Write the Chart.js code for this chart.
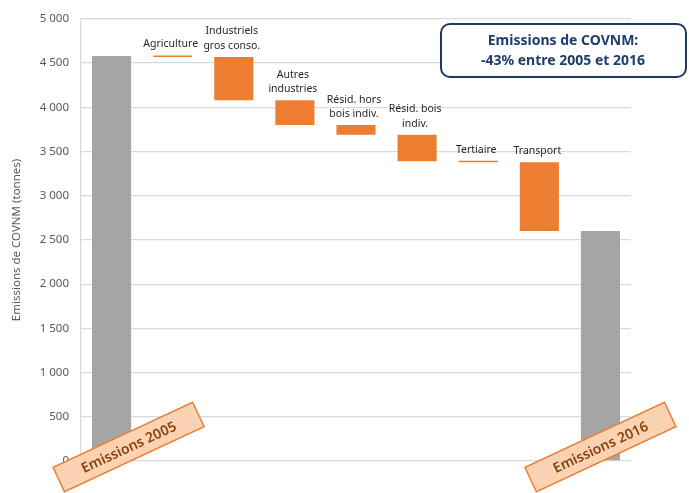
<!DOCTYPE html>
<html lang="fr">
<head>
<meta charset="utf-8">
<title>Emissions de COVNM</title>
<script src="https://cdn.jsdelivr.net/npm/chart.js@4"></script>
<style>
  html, body { margin: 0; padding: 0; background: #fff; }
</style>
</head>
<body>
<canvas id="covnmChart" width="689" height="493"></canvas>
<script>
// catégories du graphique en cascade (libellés multi-lignes)
const categories = [
    ['Emissions 2005'],
    ['Agriculture'],
    ['Industriels', 'gros conso.'],
    ['Autres', 'industries'],
    ['Résid. hors', 'bois indiv.'],
    ['Résid. bois', 'indiv.'],
    ['Tertiaire'],
    ['Transport'],
    ['Emissions 2016']
];
const emissions2005 = 4580;
const emissions2016 = 2600;
// variations par secteur entre 2005 et 2016 (tonnes)
const sectorChanges = [-10, -490, -280, -110, -300, -10, -780];
const yTicks = [0, 500, 1000, 1500, 2000, 2500, 3000, 3500, 4000, 4500, 5000];

// barres flottantes [bas, haut]
const ranges = [[0, emissions2005]];
let level = emissions2005;
sectorChanges.forEach(d => {
    const next = level + d;
    ranges.push([Math.min(level, next), Math.max(level, next)]);
    level = next;
});
ranges.push([0, emissions2016]);

const barColors = ranges.map((r, i) => (i === 0 || i === ranges.length - 1) ? '#a5a5a5' : '#ed7d31');

const fmt = v => String(v).replace(/\B(?=(\d{3})+(?!\d))/g, ' ');
const FONT = '"Noto Sans", "Open Sans", sans-serif';

// libellés au-dessus des barres orange + étiquettes inclinées + encadré titre
const annotations = {
    id: 'annotations',
    afterDraw(chart) {
        const ctx = chart.ctx;
        const meta = chart.getDatasetMeta(0);
        const area = chart.chartArea;

        ctx.save();
        ctx.font = '10.5px ' + FONT;
        ctx.fillStyle = '#262626';
        ctx.textAlign = 'center';
        ctx.textBaseline = 'alphabetic';
        for (let i = 1; i < categories.length - 1; i++) {
            const bar = meta.data[i];
            const top = Math.min(bar.y, bar.base);
            const lines = categories[i];
            lines.forEach((line, k) => {
                const y = top - 8 - (lines.length - 1 - k) * 14.5;
                ctx.fillText(line, bar.x - 2, y);
            });
        }
        ctx.restore();

        // étiquettes inclinées des totaux
        [[0, 17], [categories.length - 1, 0]].forEach(([i, dx]) => {
            const bar = meta.data[i];
            ctx.save();
            ctx.translate(bar.x + dx, area.bottom - 14);
            ctx.rotate(-25 * Math.PI / 180);
            ctx.fillStyle = '#fbd3b3';
            ctx.strokeStyle = '#ed7d31';
            ctx.lineWidth = 1.5;
            ctx.fillRect(-77, -13.5, 154, 27);
            ctx.strokeRect(-77, -13.5, 154, 27);
            ctx.fillStyle = '#8a420f';
            ctx.font = '600 14px ' + FONT;
            ctx.textAlign = 'center';
            ctx.textBaseline = 'middle';
            ctx.fillText(categories[i][0], 0, 1);
            ctx.restore();
        });

        // encadré titre
        ctx.save();
        ctx.fillStyle = '#ffffff';
        ctx.strokeStyle = '#203864';
        ctx.lineWidth = 2;
        ctx.beginPath();
        ctx.roundRect(441, 24, 245, 53, 9);
        ctx.fill();
        ctx.stroke();
        ctx.fillStyle = '#1f3d6e';
        ctx.font = 'bold 14px ' + FONT;
        ctx.textAlign = 'center';
        ctx.textBaseline = 'middle';
        ctx.fillText('Emissions de COVNM:', 563, 41);
        ctx.fillText('-43% entre 2005 et 2016', 563, 61);
        ctx.restore();
    }
};

new Chart(document.getElementById('covnmChart'), {
    type: 'bar',
    data: {
        labels: categories.map(c => c.join(' ')),
        datasets: [{
            data: ranges,
            backgroundColor: barColors,
            borderWidth: 0,
            minBarLength: 1.5,
            categoryPercentage: 0.64,
            barPercentage: 1
        }]
    },
    options: {
        responsive: false,
        devicePixelRatio: 1,
        animation: false,
        layout: { padding: { top: 12, right: 58, bottom: 32, left: 0 } },
        plugins: {
            legend: { display: false },
            tooltip: { enabled: false }
        },
        scales: {
            x: { display: false },
            y: {
                min: 0,
                max: 5000,
                afterBuildTicks: scale => { scale.ticks = yTicks.map(v => ({ value: v })); },
                afterFit: scale => { scale.width = 81; },
                ticks: {
                    callback: v => fmt(v),
                    color: '#595959',
                    font: { family: FONT, size: 11.5 },
                    padding: 12
                },
                grid: { color: '#d9d9d9', drawTicks: false, lineWidth: 1.3 },
                border: { display: true, color: '#d9d9d9', width: 1.3 },
                title: {
                    display: true,
                    text: 'Emissions de COVNM (tonnes)',
                    color: '#595959',
                    font: { family: FONT, size: 11.5 },
                    padding: { top: 10, bottom: 0 }
                }
            }
        }
    },
    plugins: [annotations]
});
</script>
</body>
</html>
